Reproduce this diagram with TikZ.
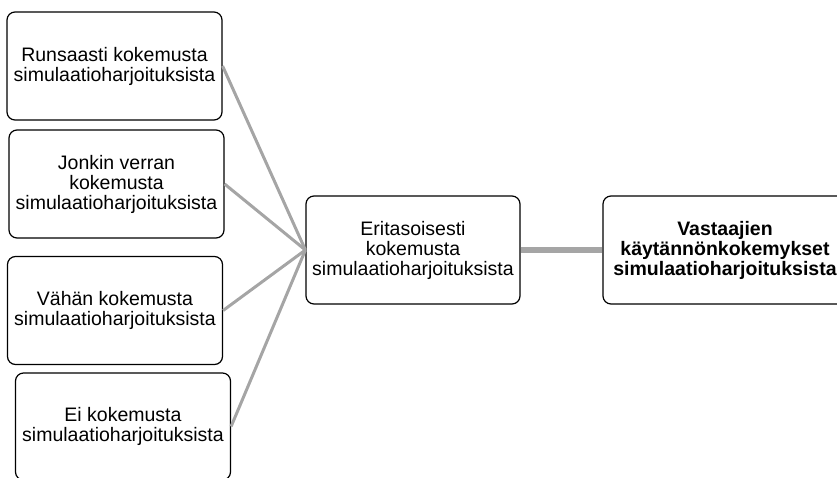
\documentclass[tikz,border=0pt]{standalone}
\usepackage{fontspec}
\setmainfont{Liberation Sans}
\definecolor{linkgray}{HTML}{A5A5A5}

\begin{document}
\begin{tikzpicture}[x=1pt, y=-1pt,
  box/.style={draw=black, line width=1.2pt, rounded corners=8pt, fill=white,
              minimum width=215pt, minimum height=108pt, inner sep=2pt,
              align=center, font=\fontsize{19.5}{20}\selectfont},
  link/.style={linkgray, line width=3pt},
  mainlink/.style={linkgray, line width=5.5pt}]

\clip (0,0) rectangle (837,477);

% ================================================================ levels
\node[box] (rich)   at (114.5,66)  {Runsaasti kokemusta\\simulaatioharjoituksista};
\node[box] (some)   at (116.5,184) {Jonkin verran\\kokemusta\\simulaatioharjoituksista};
\node[box] (little) at (115,310.5) {Vähän kokemusta\\simulaatioharjoituksista};
\node[box, minimum height=107pt] (none) at (123,426.5) {Ei kokemusta\\simulaatioharjoituksista};

% ================================================================ middle and result
\node[box, minimum width=214pt] (mixed) at (413,250)
  {Eritasoisesti\\kokemusta\\simulaatioharjoituksista};
\node[box, minimum width=244pt, font=\fontsize{19.5}{20}\selectfont\bfseries] (resp) at (725,250)
  {Vastaajien\\käytännönkokemykset\\simulaatioharjoituksista};

% connectors
\foreach \n in {rich,some,little,none}
  \draw[link] (\n.east) -- (mixed.west);
\draw[mainlink] (mixed.east) -- (resp.west);

\end{tikzpicture}
\end{document}
